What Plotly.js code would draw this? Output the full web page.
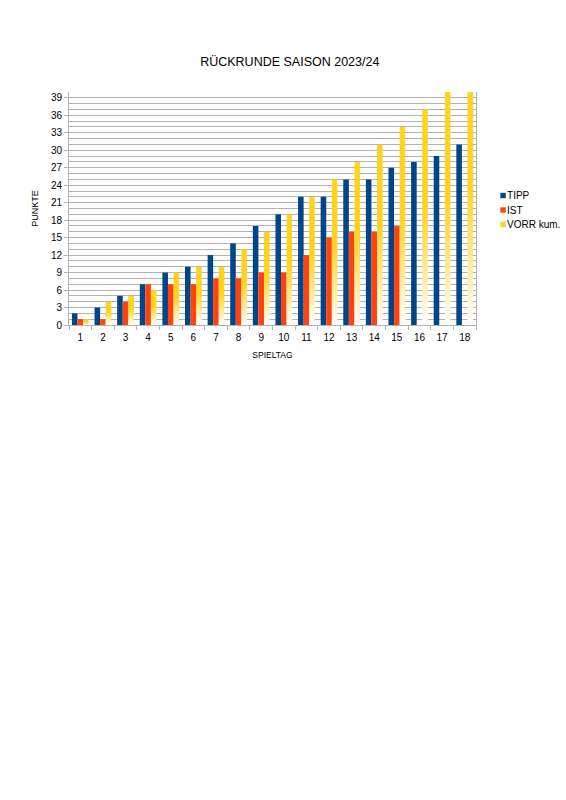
<!DOCTYPE html>
<html><head><meta charset="utf-8">
<script src="https://cdn.plot.ly/plotly-3.0.1.min.js"></script>
<style>html,body{margin:0;padding:0;background:#fff}#chart{width:566px;height:800px}</style>
</head><body><div id="chart"></div>
<script>
const spieltage = ['1','2','3','4','5','6','7','8','9','10','11','12','13','14','15','16','17','18'];
const tipp = [2,3,5,7,9,10,12,14,17,19,22,22,25,25,27,28,29,31];
const ist = [1,1,4,7,7,7,8,8,9,9,12,15,16,16,17,null,null,null];
const vorrKum = [1,4,5,6,9,10,10,13,16,19,22,25,28,31,34,37,40,43];
const yTicks = [0,3,6,9,12,15,18,21,24,27,30,33,36,39];

const font = {family: '"Liberation Sans", Arial, sans-serif', color: '#000'};
const traces = [
  {type:'bar', name:'TIPP', x:spieltage, y:tipp, marker:{color:'#004586'}},
  {type:'bar', name:'IST', x:spieltage, y:ist, marker:{color:'#ff420e'}},
  {type:'bar', name:'VORR kum.', x:spieltage, y:vorrKum, marker:{color:'#ffd320'}}
];
const layout = {
  width:566, height:800,
  margin:{l:69, r:90, t:92, b:475, pad:0, autoexpand:false},
  paper_bgcolor:'#fff', plot_bgcolor:'#fff',
  font: Object.assign({size:10}, font),
  title:{text:'RÜCKRUNDE SAISON 2023/24', font:Object.assign({size:12.5}, font), x:0.512, xref:'container', xanchor:'center', y:1-62/800, yref:'container', yanchor:'middle'},
  barmode:'group', bargap:0.26, bargroupgap:0,
  xaxis:{type:'category', tickson:'boundaries', ticks:'outside', ticklen:4, tickcolor:'#b3b3b3', tickangle:0,
    ticklabelstandoff:3,
    showline:true, linecolor:'#b3b3b3', showgrid:false, tickfont:Object.assign({size:10}, font),
    title:{text:'SPIELTAG', font:Object.assign({size:8.5}, font), standoff:10}},
  yaxis:{range:[0,40], tickvals:yTicks, ticks:'outside', ticklen:4, tickcolor:'#b3b3b3',
    showline:true, mirror:true, linecolor:'#b3b3b3', gridcolor:'#b3b3b3', gridwidth:1,
    zeroline:false, tickfont:Object.assign({size:10}, font),
    minor:{dtick:1, tick0:0, showgrid:true, gridcolor:'#b3b3b3', gridwidth:1, ticks:''},
    title:{text:'PUNKTE', font:Object.assign({size:9}, font), standoff:10}},
  legend:{x:0.978, xanchor:'left', y:0.618, yanchor:'top', font:Object.assign({size:10}, font),
    tracegroupgap:0, itemwidth:30, bgcolor:'rgba(0,0,0,0)'},
  showlegend:true
};
function applyStyling(gd){
  const svg = gd.querySelector('svg.main-svg');
  const ns = 'http://www.w3.org/2000/svg';
  if(!document.getElementById('vorrGrad')){
    let defs = document.createElementNS(ns,'defs');
    svg.insertBefore(defs, svg.firstChild);
    const g = document.createElementNS(ns,'linearGradient');
    g.setAttribute('id','vorrGrad'); g.setAttribute('x1','0'); g.setAttribute('y1','0'); g.setAttribute('x2','0'); g.setAttribute('y2','1');
    [['0','#ffd320'],['0.45','#ffd320'],['1','#ffffff']].forEach(function(s){
      const st = document.createElementNS(ns,'stop'); st.setAttribute('offset',s[0]); st.setAttribute('stop-color',s[1]); g.appendChild(st);
    });
    defs.appendChild(g);
  }
  const bars = gd.querySelectorAll('.barlayer .trace');
  if(bars[2]) bars[2].querySelectorAll('path').forEach(function(p){ p.style.setProperty('fill','url(#vorrGrad)','important'); });
  // compact legend: small square symbols next to the text, tighter rows
  const items = gd.querySelectorAll('.legend .traces');
  items.forEach(function(it, i){
    if(it.dataset.done) return;
    it.dataset.done = '1';
    const m = /translate\(([-\d.]+),\s*([-\d.]+)\)/.exec(it.getAttribute('transform')||'');
    if(m && i>0){
      const first = /translate\(([-\d.]+),\s*([-\d.]+)\)/.exec(items[0].getAttribute('transform'));
      const y0 = parseFloat(first[2]);
      it.setAttribute('transform','translate('+m[1]+','+(y0 + i*14.5)+')');
    }
    it.querySelectorAll('.legendpoints path').forEach(function(p){
      p.setAttribute('transform','translate(36,0) scale(0.45)');
    });
  });
}
Plotly.newPlot('chart', traces, layout, {staticPlot:true, displayModeBar:false}).then(function(gd){
  applyStyling(gd);
  gd.on('plotly_afterplot', function(){ applyStyling(gd); });
  setTimeout(function(){ applyStyling(gd); }, 50);
});
</script></body></html>
